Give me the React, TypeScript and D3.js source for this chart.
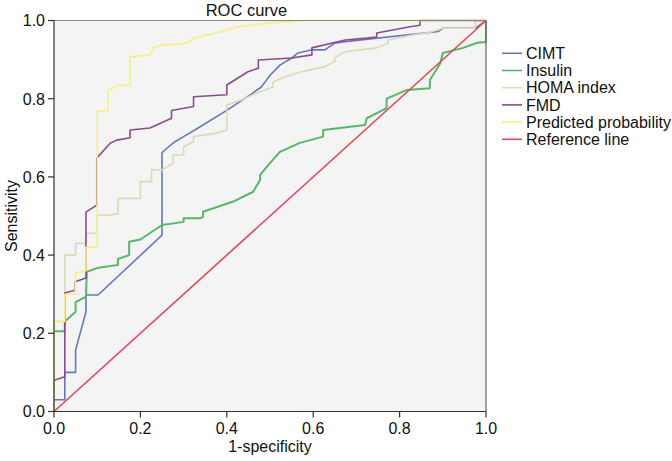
import React from "react";
import * as d3 from "d3";

const seriesNames = ["CIMT", "Insulin", "HOMA index", "FMD", "Predicted probability", "Reference line"];
const seriesColors = ["#6479bd", "#55b866", "#dadab4", "#8a4d8a", "#f6f07e", "#e8455a"];

const cimtX = [0, 0, 0.025, 0.025, 0.05, 0.05, 0.074, 0.074, 0.102, 0.25, 0.25, 0.26, 0.28, 0.30, 0.326, 0.40, 0.454, 0.48, 0.49, 0.5, 0.523, 0.55, 0.565, 0.597, 0.627, 0.65, 0.674, 0.89, 0.90, 0.975, 1.0];
const cimtY = [0, 0.03, 0.03, 0.10, 0.10, 0.157, 0.255, 0.298, 0.298, 0.451, 0.662, 0.672, 0.69, 0.703, 0.72, 0.77, 0.81, 0.83, 0.845, 0.86, 0.886, 0.904, 0.917, 0.925, 0.925, 0.942, 0.946, 0.972, 0.98, 0.98, 1.0];

const insulinX = [0, 0, 0.025, 0.025, 0.05, 0.05, 0.074, 0.076, 0.1, 0.148, 0.148, 0.174, 0.174, 0.2, 0.25, 0.3, 0.3, 0.338, 0.345, 0.345, 0.415, 0.461, 0.477, 0.477, 0.5, 0.523, 0.569, 0.623, 0.623, 0.72, 0.724, 0.77, 0.77, 0.816, 0.87, 0.87, 0.894, 0.90, 0.947, 0.98, 1.0, 1.0];
const insulinY = [0, 0.205, 0.205, 0.23, 0.255, 0.28, 0.294, 0.357, 0.367, 0.375, 0.39, 0.40, 0.434, 0.44, 0.477, 0.485, 0.494, 0.494, 0.498, 0.511, 0.537, 0.562, 0.592, 0.605, 0.635, 0.664, 0.687, 0.703, 0.72, 0.733, 0.75, 0.776, 0.80, 0.822, 0.827, 0.848, 0.89, 0.917, 0.93, 0.943, 0.945, 1.0];

const homaX = [0, 0, 0.025, 0.025, 0.05, 0.05, 0.074, 0.074, 0.1, 0.1, 0.125, 0.148, 0.148, 0.2, 0.2, 0.226, 0.226, 0.25, 0.276, 0.276, 0.3, 0.3, 0.323, 0.323, 0.377, 0.4, 0.4, 0.434, 0.477, 0.507, 0.507, 0.527, 0.573, 0.627, 0.65, 0.65, 0.674, 0.747, 0.773, 0.773, 0.83, 0.87, 0.9, 0.975, 0.975, 1.0];
const homaY = [0, 0.23, 0.23, 0.40, 0.40, 0.43, 0.43, 0.456, 0.456, 0.502, 0.502, 0.506, 0.545, 0.545, 0.588, 0.588, 0.618, 0.618, 0.635, 0.656, 0.656, 0.677, 0.69, 0.703, 0.712, 0.72, 0.784, 0.797, 0.818, 0.83, 0.843, 0.853, 0.869, 0.882, 0.895, 0.905, 0.92, 0.93, 0.942, 0.95, 0.963, 0.97, 0.98, 0.98, 0.997, 1.0];

const fmdX = [0, 0, 0.025, 0.025, 0.049, 0.049, 0.072, 0.074, 0.074, 0.099, 0.099, 0.13, 0.145, 0.176, 0.176, 0.222, 0.272, 0.272, 0.323, 0.323, 0.4, 0.4, 0.449, 0.473, 0.473, 0.55, 0.597, 0.597, 0.674, 0.724, 0.747, 0.747, 0.824, 0.847, 0.847, 1.0];
const fmdY = [0, 0.08, 0.089, 0.303, 0.31, 0.332, 0.341, 0.341, 0.51, 0.528, 0.648, 0.686, 0.694, 0.70, 0.72, 0.725, 0.75, 0.77, 0.78, 0.805, 0.81, 0.835, 0.869, 0.878, 0.899, 0.904, 0.912, 0.93, 0.95, 0.955, 0.958, 0.968, 0.984, 0.988, 1.0, 1.0];

const predX = [0, 0, 0.025, 0.025, 0.049, 0.05, 0.074, 0.074, 0.1, 0.1, 0.125, 0.125, 0.153, 0.176, 0.176, 0.222, 0.23, 0.25, 0.307, 0.33, 0.373, 0.426, 0.504, 0.58, 1.0];
const predY = [0, 0.23, 0.23, 0.30, 0.30, 0.354, 0.36, 0.42, 0.42, 0.767, 0.77, 0.822, 0.835, 0.835, 0.907, 0.912, 0.93, 0.937, 0.942, 0.958, 0.968, 0.984, 0.994, 1.0, 1.0];

const refX = [0, 1];
const refY = [0, 1];

const tickValues = [0, 0.2, 0.4, 0.6, 0.8, 1.0];

const allX = [cimtX, insulinX, homaX, fmdX, predX, refX];
const allY = [cimtY, insulinY, homaY, fmdY, predY, refY];

const W = 672;
const H = 461;
const left = 54;
const right = 486;
const top = 20.5;
const bottom = 411.5;
const FONT = "'Liberation Sans', Arial, sans-serif";

export default function App() {
  const x = d3.scaleLinear().domain([0, 1]).range([left, right]);
  const y = d3.scaleLinear().domain([0, 1]).range([bottom, top]);
  const line = d3
    .line<[number, number]>()
    .x((d) => x(d[0]))
    .y((d) => y(d[1]));

  return (
    <div style={{ position: "absolute", left: 0, top: 0 }}>
      <svg width={W} height={H} style={{ display: "block", background: "#ffffff" }} fontFamily={FONT}>
        <rect x={left} y={top} width={right - left} height={bottom - top} fill="#f4f4f4" />
        <text x={246.5} y={15.5} fontSize={16.5} textAnchor="middle" fill="#111">
          ROC curve
        </text>
        {allX.map((xs, i) => {
          const pts: [number, number][] = xs.map((v, j) => [v, allY[i][j]]);
          return (
            <path
              key={seriesNames[i]}
              d={line(pts) || ""}
              fill="none"
              stroke={seriesColors[i]}
              strokeWidth={i === 1 ? 2 : 1.6}
              strokeLinejoin="round"
            />
          );
        })}
        <line x1={left} x2={right} y1={top} y2={top} stroke="#8a8a7a" strokeWidth={1.2} />
        <line x1={right} x2={right} y1={top} y2={bottom} stroke="#666" strokeWidth={1.2} />
        <line x1={left} x2={left} y1={top} y2={bottom} stroke="#333" strokeWidth={1.2} />
        <line x1={left} x2={right} y1={bottom} y2={bottom} stroke="#333" strokeWidth={1.2} />
        {tickValues.map((t) => (
          <g key={"y" + t}>
            <line x1={left - 6} x2={left} y1={y(t)} y2={y(t)} stroke="#333" strokeWidth={1.2} />
            <text x={left - 9} y={y(t) + 5.8} fontSize={16} textAnchor="end" fill="#111">
              {t.toFixed(1)}
            </text>
          </g>
        ))}
        {tickValues.map((t) => (
          <g key={"x" + t}>
            <line x1={x(t)} x2={x(t)} y1={bottom} y2={bottom + 6} stroke="#333" strokeWidth={1.2} />
            <text x={x(t)} y={434} fontSize={16} textAnchor="middle" fill="#111">
              {t.toFixed(1)}
            </text>
          </g>
        ))}
        <text x={(left + right) / 2} y={452} fontSize={16} textAnchor="middle" fill="#111">
          1-specificity
        </text>
        <text
          transform={`translate(17, ${(top + bottom) / 2}) rotate(-90)`}
          fontSize={16}
          textAnchor="middle"
          fill="#111"
        >
          Sensitivity
        </text>
        {seriesNames.map((name, i) => {
          const ly = 53.3 + i * 17.2;
          return (
            <g key={"leg" + name}>
              <line x1={502} x2={522} y1={ly} y2={ly} stroke={seriesColors[i]} strokeWidth={1.6} />
              <text x={526} y={ly + 5.6} fontSize={16} fill="#111">
                {name}
              </text>
            </g>
          );
        })}
      </svg>
    </div>
  );
}
